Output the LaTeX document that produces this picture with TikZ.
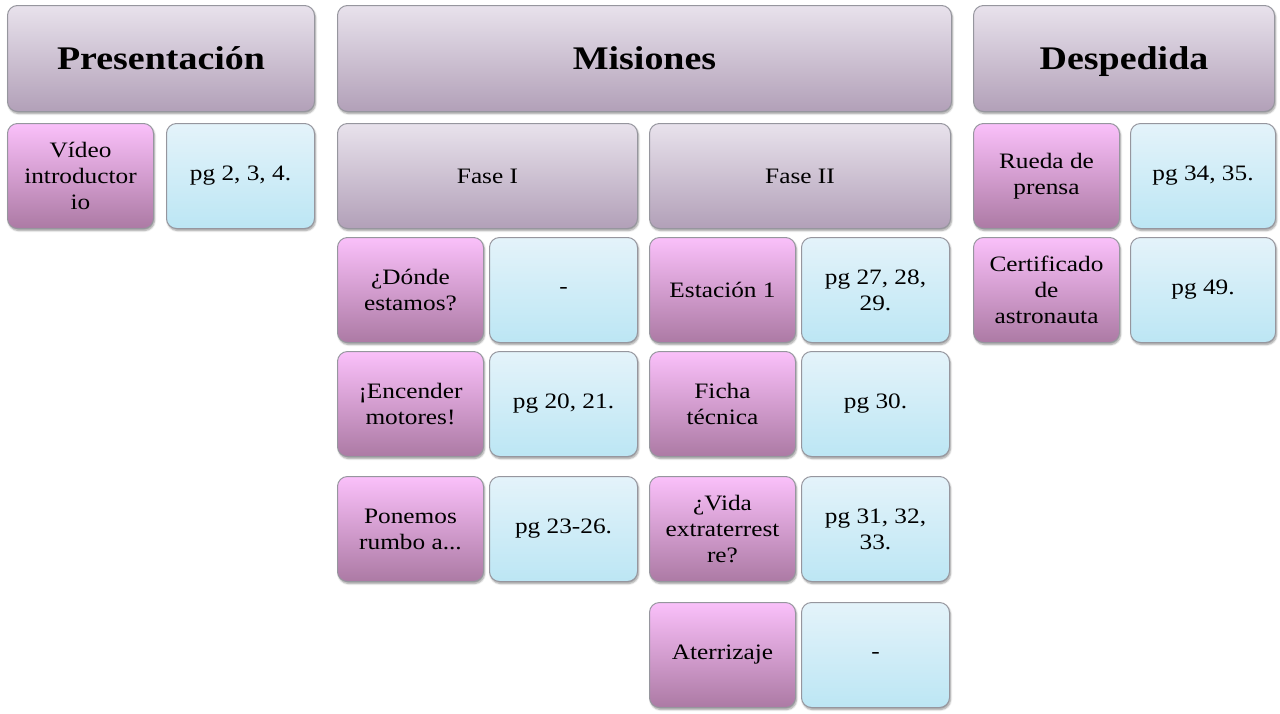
\documentclass[tikz,border=0pt]{standalone}
\usepackage{fontspec}
\setmainfont{Liberation Serif}[FakeStretch=1.15]
\usetikzlibrary{positioning,shadows.blur}

\definecolor{headtop}{RGB}{232,226,236}
\definecolor{headbot}{RGB}{178,160,184}
\definecolor{pinktop}{RGB}{250,192,250}
\definecolor{pinkbot}{RGB}{172,122,164}
\definecolor{bluetop}{RGB}{228,243,250}
\definecolor{bluebot}{RGB}{188,230,244}
\definecolor{rim}{RGB}{150,150,158}

\tikzset{
  tile/.style={draw=rim, line width=1pt, rounded corners=10pt, align=center,
    inner sep=2pt, minimum height=105pt,
    blur shadow={shadow xshift=1pt, shadow yshift=-2pt, shadow blur steps=6, shadow opacity=40},
    font=\fontsize{22}{26}\selectfont},
  headbox/.style={tile, top color=headtop, bottom color=headbot,
    minimum height=106pt, text height=26pt, text depth=4pt,
    font=\fontsize{33}{37}\selectfont\bfseries},
  fasebox/.style={tile, top color=headtop, bottom color=headbot, minimum width=300pt},
  itembox/.style={tile, top color=pinktop, bottom color=pinkbot, minimum width=146pt},
  pagebox/.style={tile, top color=bluetop, bottom color=bluebot, minimum width=148pt},
}

\begin{document}
\begin{tikzpicture}
  \useasboundingbox (0,0) rectangle (1280pt,-713pt);

  \node[headbox, minimum width=307pt, anchor=north west] (pres) at (7pt,-5pt) {Presentación};
  \node[headbox, minimum width=614pt, right=22pt of pres] (mis) {Misiones};
  \node[headbox, minimum width=301pt, right=21pt of mis] (desp) {Despedida};

  % Presentacion
  \node[itembox, below right=11pt and 0pt of pres.south west] (video) {Vídeo\\introductor\\io};
  \node[pagebox, right=12pt of video] (pgvideo) {pg 2, 3, 4.};

  % Misiones
  \node[fasebox, below right=11pt and 0pt of mis.south west] (fase1) {Fase I};
  \node[fasebox, minimum width=301pt, right=11pt of fase1] (fase2) {Fase II};

  \node[itembox, below right=8pt and 0pt of fase1.south west] (donde) {¿Dónde\\estamos?};
  \node[pagebox, right=5pt of donde] (pgdonde) {-};
  \node[itembox, below=8pt of donde] (motores) {¡Encender\\motores!};
  \node[pagebox, right=5pt of motores] (pgmotores) {pg 20, 21.};
  \node[itembox, below=19pt of motores] (rumbo) {Ponemos\\rumbo a...};
  \node[pagebox, right=5pt of rumbo] (pgrumbo) {pg 23-26.};

  \node[itembox, below right=8pt and 0pt of fase2.south west] (estacion) {Estación 1};
  \node[pagebox, right=5pt of estacion] (pgestacion) {pg 27, 28,\\29.};
  \node[itembox, below=8pt of estacion] (ficha) {Ficha\\técnica};
  \node[pagebox, right=5pt of ficha] (pgficha) {pg 30.};
  \node[itembox, below=19pt of ficha] (vida) {¿Vida\\extraterrest\\re?};
  \node[pagebox, right=5pt of vida] (pgvida) {pg 31, 32,\\33.};
  \node[itembox, below=20pt of vida] (aterrizaje) {Aterrizaje};
  \node[pagebox, right=5pt of aterrizaje] (pgaterrizaje) {-};

  % Despedida
  \node[itembox, below right=11pt and 0pt of desp.south west] (rueda) {Rueda de\\prensa};
  \node[pagebox, minimum width=145pt, right=10pt of rueda] (pgrueda) {pg 34, 35.};
  \node[itembox, below=8pt of rueda] (certif) {Certificado\\de\\astronauta};
  \node[pagebox, minimum width=145pt, right=10pt of certif] (pgcertif) {pg 49.};
\end{tikzpicture}
\end{document}
